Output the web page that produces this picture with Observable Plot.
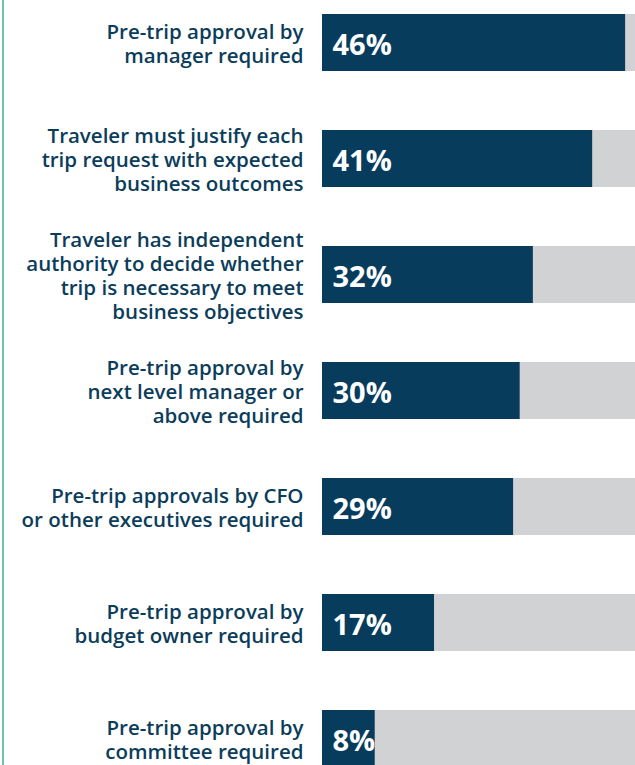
<!DOCTYPE html>
<html><head><meta charset="utf-8">
<script src="https://cdn.jsdelivr.net/npm/d3@7"></script>
<script src="https://cdn.jsdelivr.net/npm/@observablehq/plot@0.6"></script>
<style>
html,body{margin:0;padding:0;background:#fff;}
#chart{position:relative;width:635px;height:765px;overflow:hidden;}
#chart svg{display:block;}
#accent{position:absolute;left:2px;top:0;width:2px;height:765px;background:#6cc4a4;}
</style></head><body><div id="chart"><div id="accent"></div></div>
<script>
const categories = [
  "Pre-trip approval by\nmanager required",
  "Traveler must justify each\ntrip request with expected\nbusiness outcomes",
  "Traveler has independent\nauthority to decide whether\ntrip is necessary to meet\nbusiness objectives",
  "Pre-trip approval by\nnext level manager or\nabove required",
  "Pre-trip approvals by CFO\nor other executives required",
  "Pre-trip approval by\nbudget owner required",
  "Pre-trip approval by\ncommittee required"
];
const values = [46, 41, 32, 30, 29, 17, 8];
const scaleMax = 47.5;
const data = categories.map((c, i) => ({category: c, value: values[i]}));

const plot = Plot.plot({
  width: 635, height: 765,
  marginLeft: 322, marginRight: 0, marginTop: 0, marginBottom: 0,
  x: {domain: [0, scaleMax], axis: null},
  y: {domain: categories, range: [12, 768], paddingInner: 0.511, paddingOuter: 0, axis: null},
  style: {fontFamily: "'Open Sans', sans-serif", background: "transparent", overflow: "visible"},
  marks: [
    Plot.barX(data, {y: "category", x1: 0, x2: scaleMax, fill: "#d1d2d4"}),
    Plot.barX(data, {y: "category", x: "value", fill: "#073c5d"}),
    Plot.text(data, {y: "category", x: 0, text: d => d.value + "%", textAnchor: "start", dx: 10, dy: 3, fill: "white", fontSize: 29, fontWeight: 700}),
    Plot.text(data, {y: "category", x: 0, text: "category", textAnchor: "end", dx: -19, fill: "#0b3d5b", fontSize: 20.5, fontWeight: 600, lineHeight: 1.17})
  ]
});
document.getElementById("chart").appendChild(plot);
</script></body></html>
